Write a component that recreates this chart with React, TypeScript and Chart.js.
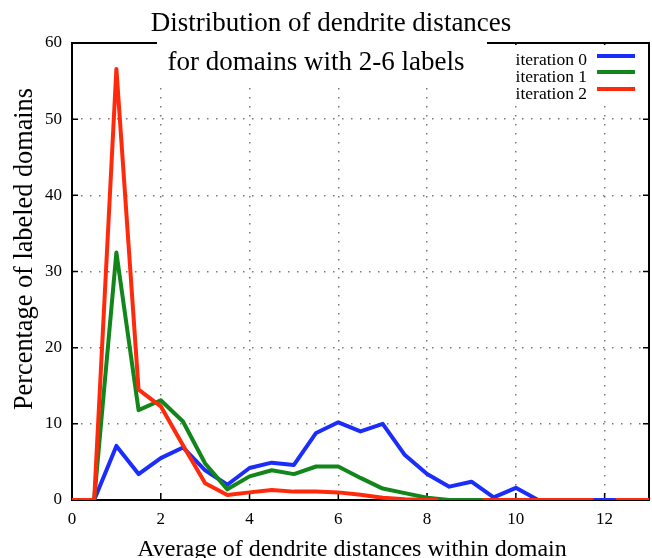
import React, { useEffect, useRef } from 'react';
import { Chart, registerables } from 'chart.js';

Chart.register(...registerables);

// ---- data ----
const xTicks = [0, 2, 4, 6, 8, 10, 12];
const yTicks = [0, 10, 20, 30, 40, 50, 60];
const seriesLabels = ['iteration 0', 'iteration 1', 'iteration 2'];
const titleLines = ['Distribution of dendrite distances', 'for domains with 2-6 labels'];
const xTitle = 'Average of dendrite distances within domain';
const yTitle = 'Percentage of labeled domains';

const blueX = [0.5, 1, 1.5, 2, 2.5, 3, 3.5, 4, 4.5, 5, 5.5, 6, 6.5, 7, 7.5, 8, 8.5, 9, 9.5, 10, 10.5, 11, 11.5, 12, 12.5, 13];
const blueY = [0, 7.1, 3.4, 5.5, 6.9, 3.9, 2.0, 4.2, 4.9, 4.6, 8.8, 10.2, 9.0, 10.0, 5.9, 3.4, 1.75, 2.4, 0.35, 1.6, 0, 0, 0, 0, 0, 0];

const greenX = [0.5, 1, 1.5, 2, 2.5, 3, 3.5, 4, 4.5, 5, 5.5, 6, 6.5, 7, 7.5, 8, 8.5, 9, 9.5];
const greenY = [0, 32.5, 11.8, 13.1, 10.3, 4.8, 1.4, 3.1, 3.9, 3.4, 4.4, 4.4, 2.9, 1.5, 0.9, 0.3, 0, 0, 0];

const redX = [0, 0.5, 1, 1.5, 2, 2.5, 3, 3.5, 4, 4.5, 5, 5.5, 6, 6.5, 7, 7.5, 8, 8.25, 8.75, 9.25, 9.5, 10, 10.5, 11, 11.5, 11.75, 12, 12.25, 12.5, 13];
const redY = [0, 0, 56.6, 14.5, 12.3, 7.2, 2.2, 0.65, 1.0, 1.3, 1.1, 1.1, 1.0, 0.7, 0.3, 0.1, 0, 0, null, 0, 0, 0, 0, 0, 0, 0, null, 0, 0, 0];

const seriesColors = ['#1b2dfb', '#12861a', '#ff2a0c'];

const SERIF = "'Liberation Serif', 'Times New Roman', serif";

const toPoints = (xs: number[], ys: (number | null)[]) => xs.map((x, i) => ({ x, y: ys[i] }));

const gnuplotPlugin = {
  id: 'gnuplotDecor',
  beforeDatasetsDraw(chart: any) {
    const { ctx, chartArea: a, scales } = chart;
    const xs = scales.x;
    const ys = scales.y;
    ctx.save();
    // frame
    ctx.strokeStyle = '#000';
    ctx.lineWidth = 2;
    ctx.setLineDash([]);
    ctx.strokeRect(a.left, a.top, a.right - a.left, a.bottom - a.top);
    // inward ticks (mirrored)
    ctx.lineWidth = 1.5;
    ctx.beginPath();
    xTicks.forEach((v) => {
      if (v === 0) return;
      const px = xs.getPixelForValue(v);
      ctx.moveTo(px, a.bottom);
      ctx.lineTo(px, a.bottom - 7);
      ctx.moveTo(px, a.top);
      ctx.lineTo(px, a.top + 7);
    });
    yTicks.forEach((v) => {
      if (v === 0 || v === 60) return;
      const py = ys.getPixelForValue(v);
      ctx.moveTo(a.left, py);
      ctx.lineTo(a.left + 6, py);
      ctx.moveTo(a.right, py);
      ctx.lineTo(a.right - 6, py);
    });
    ctx.stroke();

    // white boxes behind title and key
    ctx.fillStyle = '#fff';
    ctx.fillRect(157, 0, 330, 82);
    ctx.fillRect(508, a.top + 2, 139, 58);

    // title
    ctx.fillStyle = '#000';
    ctx.font = `27px ${SERIF}`;
    ctx.textAlign = 'center';
    ctx.textBaseline = 'alphabetic';
    ctx.fillText(titleLines[0], 331, 31);
    ctx.fillText(titleLines[1], 316, 70);

    // key
    ctx.font = `17.5px ${SERIF}`;
    ctx.textAlign = 'right';
    const baselines = [65, 82, 99];
    const lineYs = [56, 72, 89];
    chart.data.datasets.forEach((ds: any, i: number) => {
      ctx.fillStyle = '#000';
      ctx.fillText(ds.label, 587, baselines[i]);
      ctx.strokeStyle = ds.borderColor;
      ctx.lineWidth = 4;
      ctx.beginPath();
      ctx.moveTo(597, lineYs[i]);
      ctx.lineTo(635, lineYs[i]);
      ctx.stroke();
    });

    // axis titles
    ctx.fillStyle = '#000';
    ctx.font = `24px ${SERIF}`;
    ctx.textAlign = 'center';
    ctx.textBaseline = 'alphabetic';
    ctx.fillText(xTitle, 352, 556);
    ctx.save();
    ctx.translate(32, 249);
    ctx.rotate(-Math.PI / 2);
    ctx.font = `26.3px ${SERIF}`;
    ctx.fillText(yTitle, 0, 0);
    ctx.restore();

    ctx.restore();
  },
};

export default function App() {
  const ref = useRef<HTMLCanvasElement | null>(null);

  useEffect(() => {
    if (!ref.current) return;
    const chart = new Chart(ref.current, {
      type: 'line',
      data: {
        datasets: [
          { label: seriesLabels[0], data: toPoints(blueX, blueY), borderColor: seriesColors[0], order: 2 },
          { label: seriesLabels[1], data: toPoints(greenX, greenY), borderColor: seriesColors[1], order: 1 },
          { label: seriesLabels[2], data: toPoints(redX, redY), borderColor: seriesColors[2], order: 0 },
        ].map((d) => ({
          ...d,
          backgroundColor: d.borderColor,
          borderWidth: 4,
          borderJoinStyle: 'round' as const,
          pointRadius: 0,
          tension: 0,
          fill: false,
          spanGaps: false,
        })),
      },
      options: {
        animation: false,
        responsive: false,
        devicePixelRatio: 1,
        layout: { padding: { left: 0, right: 3, top: 43, bottom: 0 } },
        plugins: {
          legend: { display: false },
          title: { display: false },
          tooltip: { enabled: false },
        },
        scales: {
          x: {
            type: 'linear',
            min: 0,
            max: 13,
            afterBuildTicks: (s: any) => {
              s.ticks = xTicks.map((v) => ({ value: v }));
            },
            afterFit: (s: any) => {
              s.height = 58;
            },
            ticks: {
              color: '#000',
              font: { family: SERIF, size: 17 },
              padding: 9,
              maxRotation: 0,
              autoSkip: false,
            },
            grid: {
              color: '#7a7a7a',
              lineWidth: 1.5,
              drawTicks: false,
            },
            border: { display: false, dash: [1.5, 7.5] },
          },
          y: {
            type: 'linear',
            min: 0,
            max: 60,
            afterBuildTicks: (s: any) => {
              s.ticks = yTicks.map((v) => ({ value: v }));
            },
            afterFit: (s: any) => {
              s.width = 72;
            },
            ticks: {
              color: '#000',
              font: { family: SERIF, size: 17 },
              padding: 10,
              autoSkip: false,
            },
            grid: {
              color: '#7a7a7a',
              lineWidth: 1.5,
              drawTicks: false,
            },
            border: { display: false, dash: [1.5, 7.5] },
          },
        },
      },
      plugins: [gnuplotPlugin],
    });
    return () => chart.destroy();
  }, []);

  return (
    <div style={{ position: 'absolute', left: 0, top: 0, width: 652, height: 558, background: '#fff' }}>
      <canvas ref={ref} width={652} height={558} style={{ display: 'block', width: 652, height: 558 }} />
    </div>
  );
}
